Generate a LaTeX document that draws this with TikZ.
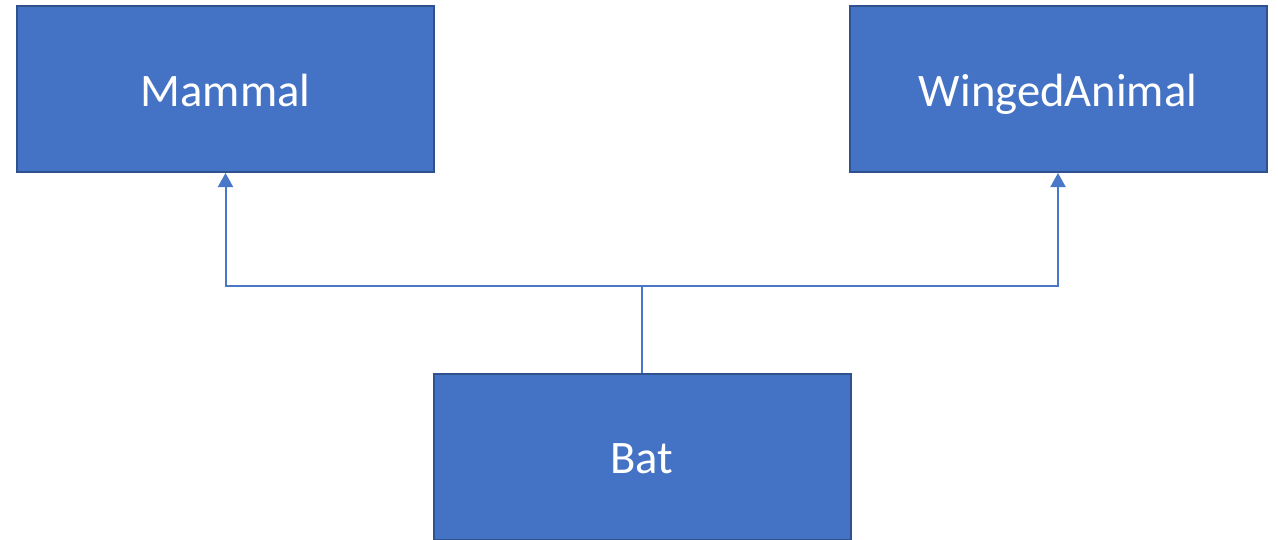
\documentclass[tikz,border=0pt]{standalone}
\usepackage{fontspec}
\setmainfont{Carlito}
\usetikzlibrary{arrows.meta, positioning}

\definecolor{boxfill}{HTML}{4472C4}
\definecolor{boxline}{HTML}{2F528F}
\definecolor{linkline}{HTML}{4A78C8}

\begin{document}
\begin{tikzpicture}[x=0.5pt, y=-0.5pt]
        % Setup the style for the classes
        \tikzset{class style/.style={rectangle,
                                    minimum width=208.5pt,
                                    minimum height=83pt,
                                    line width=1pt,
                                    draw=boxline,
                                    fill=boxfill,
                                    text=white,
                                    text height=17pt,
                                    text depth=0pt,
                                    font=\fontsize{23.3}{28}\selectfont}}
        \tikzset{link style/.style={line width=1pt,
                                    draw=linkline,
                                    -{Triangle[width=7.5pt,length=7pt]}}}

        \useasboundingbox (0,0) rectangle (1278,540);

        % Draw the classes
        \node[class style] at (225.5, 89) (mammal) {Mammal};
        \node[class style] at (1058, 89) (winged) {WingedAnimal};
        \node[class style] at (642, 456.5) (bat) {Bat};
        \coordinate (split) at (642, 286);

        % Connect the classes with arrows
        \draw[line width=1pt, draw=linkline] (bat.north) -- (split);
        \draw[link style] (split) -| (mammal.south);
        \draw[link style] (split) -| (winged.south);
\end{tikzpicture}
\end{document}
